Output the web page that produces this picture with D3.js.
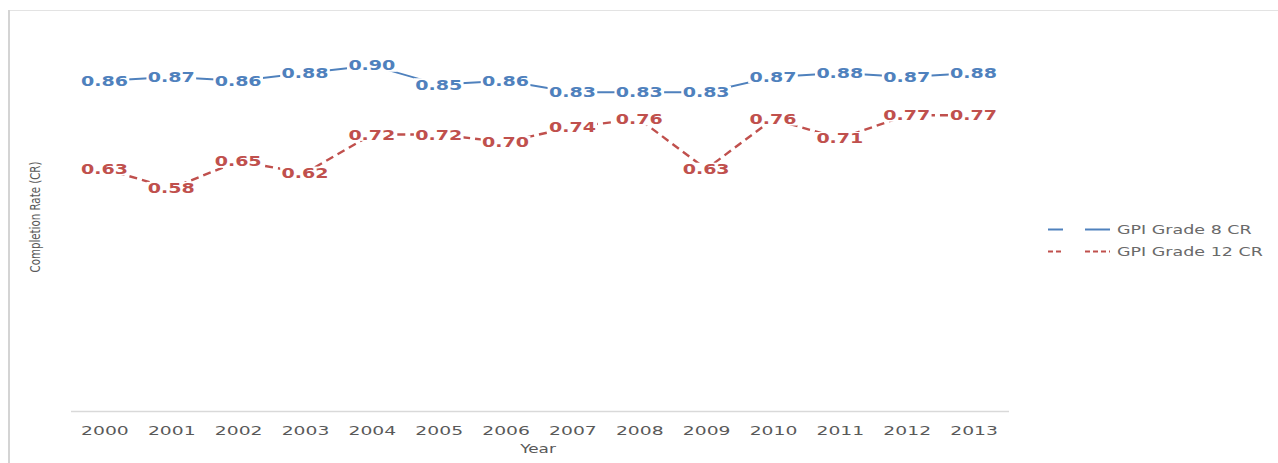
<!DOCTYPE html>
<html>
<head>
<meta charset="utf-8">
<script src="https://cdn.jsdelivr.net/npm/d3@7"></script>
<style>
  html, body { margin: 0; padding: 0; background: #fff; }
  svg { display: block; }
  text { font-family: "DejaVu Sans", sans-serif; }
</style>
</head>
<body>
<div id="chart"></div>
<script>
// Gender parity index of completion rates, by year
const years = ["2000","2001","2002","2003","2004","2005","2006","2007","2008","2009","2010","2011","2012","2013"];
const grade8 = [0.86,0.87,0.86,0.88,0.90,0.85,0.86,0.83,0.83,0.83,0.87,0.88,0.87,0.88];
const grade12 = [0.63,0.58,0.65,0.62,0.72,0.72,0.70,0.74,0.76,0.63,0.76,0.71,0.77,0.77];
const seriesNames = ["GPI Grade 8 CR", "GPI Grade 12 CR"];
const seriesColors = ["#4F81BD", "#C0504D"];

const W = 1278, H = 463;
const svg = d3.select("#chart").append("svg").attr("width", W).attr("height", H);

// outer frame (top and left edges)
svg.append("line").attr("x1", 8).attr("x2", W).attr("y1", 10.5).attr("y2", 10.5)
  .attr("stroke", "#e3e3e3").attr("stroke-width", 1);
svg.append("line").attr("x1", 9).attr("x2", 9).attr("y1", 10).attr("y2", H)
  .attr("stroke", "#d4d4d4").attr("stroke-width", 2);

const x = d3.scalePoint().domain(years).range([71, 1007]).padding(0.5);
const y = d3.scaleLinear().domain([0, 1]).range([411, 27]);

// category axis
const xAxis = svg.append("g").attr("transform", "translate(0,411.5)")
  .call(d3.axisBottom(x).tickSize(0).tickPadding(0));
xAxis.select(".domain").attr("stroke", "#d9d9d9").attr("stroke-width", 1.5)
  .attr("d", "M71,0H1009");
xAxis.selectAll(".tick text").remove();
xAxis.selectAll(".tick").append("text")
  .attr("transform", "translate(0,23) scale(1.5,1)")
  .attr("text-anchor", "middle")
  .attr("fill", "#595959").attr("font-size", 12.5)
  .text(d => d);

svg.append("text").attr("transform", "translate(538,453) scale(1.35,1)")
  .attr("text-anchor", "middle").attr("fill", "#595959").attr("font-size", 12.5)
  .text("Year");

svg.append("text").attr("transform", "translate(40,217) rotate(-90)")
  .attr("text-anchor", "middle").attr("fill", "#595959").attr("font-size", 14)
  .attr("textLength", 111).attr("lengthAdjust", "spacingAndGlyphs")
  .text("Completion Rate (CR)");

const line = d3.line().x((d, i) => x(years[i])).y(d => y(d));
const series = [grade8, grade12];
const dashes = [null, "8,5"];
const widths = [2, 2.4];

series.forEach((vals, s) => {
  svg.append("path").datum(vals).attr("d", line)
    .attr("fill", "none").attr("stroke", seriesColors[s]).attr("stroke-width", widths[s])
    .attr("stroke-dasharray", dashes[s]);
});

// value labels, centred on each point over a white patch
series.forEach((vals, s) => {
  const g = svg.append("g");
  vals.forEach((v, i) => {
    const lg = g.append("g")
      .attr("transform", `translate(${x(years[i])},${y(v)}) scale(1.36,1)`);
    const rect = lg.append("rect").attr("fill", "#fff");
    const t = lg.append("text").attr("text-anchor", "middle").attr("dy", "0.36em")
      .attr("fill", seriesColors[s]).attr("font-size", 14).attr("font-weight", 600)
      .text(v.toFixed(2));
    const b = t.node().getBBox();
    rect.attr("x", b.x - 1).attr("y", b.y + 2).attr("width", b.width + 2).attr("height", b.height - 4);
  });
});

// legend
const legY = [229.5, 251.5];
series.forEach((vals, s) => {
  const lg = svg.append("g");
  [[1048, 1063], [1085, 1110]].forEach(([a, b]) => {
    lg.append("line").attr("x1", a).attr("x2", b).attr("y1", legY[s]).attr("y2", legY[s])
      .attr("stroke", seriesColors[s]).attr("stroke-width", 2)
      .attr("stroke-dasharray", dashes[s] ? "5,3" : null);
  });
  lg.append("text").attr("transform", `translate(1117,${legY[s] + 4.5}) scale(1.4,1)`)
    .attr("fill", "#6a6a6a").attr("font-size", 12.5)
    .text(seriesNames[s]);
});
</script>
</body>
</html>
